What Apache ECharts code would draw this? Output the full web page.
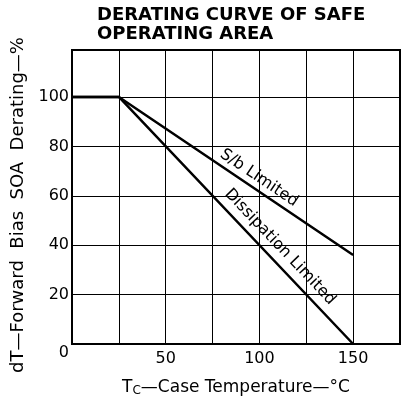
<!DOCTYPE html>
<html>
<head>
<meta charset="utf-8">
<script src="https://cdn.jsdelivr.net/npm/echarts@6/dist/echarts.min.js"></script>
<style>
  html, body { margin: 0; padding: 0; background: #fff; }
  #chart { width: 410px; height: 404px; }
</style>
</head>
<body>
<div id="chart"></div>
<script>
// case temperature (°C) and derating (%)
const caseTemp = [0, 25, 150]
const sbLimited = [100, 100, 36]
const dissipationLimited = [100, 100, 0]
const xTickLabels = [50, 100, 150]
const yTickLabels = [0, 20, 40, 60, 80, 100]

// curve labels, placed in data units next to each curve
const curveLabels = [
  { text: 'S/b Limited', at: [99.8, 67.2], angle: -34 },
  { text: 'Dissipation Limited', at: [111, 39.3], angle: -46.5 }
]

const font = 'DejaVu Sans'
const chart = echarts.init(document.getElementById('chart'))

const option = {
  animation: false,
  title: {
    text: 'DERATING CURVE OF SAFE\nOPERATING AREA',
    left: 97,
    top: 6,
    padding: 0,
    textStyle: {
      fontFamily: font,
      fontWeight: 'bold',
      fontSize: 18,
      lineHeight: 19,
      color: '#000'
    }
  },
  grid: {
    left: 72,
    right: 10,
    top: 50,
    bottom: 60,
    show: true,
    borderColor: '#000',
    borderWidth: 2,
    backgroundColor: 'transparent'
  },
  xAxis: {
    type: 'value',
    min: 0,
    max: 175,
    interval: 25,
    name: 'T{sub|C}—Case Temperature—°C',
    nameLocation: 'middle',
    nameGap: 34,
    nameTextStyle: {
      fontFamily: font,
      fontSize: 17,
      color: '#000',
      rich: {
        sub: { fontFamily: font, fontSize: 12, color: '#000', padding: [7, 0, 0, 0] }
      }
    },
    axisLine: { show: true, lineStyle: { color: '#000', width: 2 } },
    axisTick: { show: false },
    axisLabel: {
      margin: 7,
      fontFamily: font,
      fontSize: 16,
      color: '#000',
      formatter: v => (xTickLabels.includes(v) ? String(v) : '')
    },
    splitLine: { show: true, lineStyle: { color: '#000', width: 1 } }
  },
  yAxis: {
    type: 'value',
    min: 0,
    max: 119,
    interval: 20,
    name: 'dT—Forward  Bias  SOA  Derating—%',
    nameLocation: 'middle',
    nameGap: 38,
    nameTextStyle: {
      fontFamily: font,
      fontSize: 18,
      color: '#000',
      padding: [0, 16, 0, 0]
    },
    axisLine: { show: true, lineStyle: { color: '#000', width: 2 } },
    axisTick: { show: false },
    axisLabel: {
      margin: 3,
      fontFamily: font,
      fontSize: 16,
      color: '#000',
      formatter: v => (yTickLabels.includes(v) ? (v === 0 ? '{low|0}' : String(v)) : ''),
      rich: {
        low: { fontFamily: font, fontSize: 16, color: '#000', padding: [18, 0, 0, 0] }
      }
    },
    splitLine: { show: true, lineStyle: { color: '#000', width: 1 } }
  },
  series: [
    {
      name: 'S/b Limited',
      type: 'line',
      data: caseTemp.map((t, i) => [t, sbLimited[i]]),
      symbol: 'none',
      lineStyle: { color: '#000', width: 2.5 }
    },
    {
      name: 'Dissipation Limited',
      type: 'line',
      data: caseTemp.map((t, i) => [t, dissipationLimited[i]]),
      symbol: 'none',
      lineStyle: { color: '#000', width: 2.5 }
    },
    ...curveLabels.map(l => ({
      type: 'scatter',
      symbolSize: 0,
      silent: true,
      itemStyle: { opacity: 1 },
      data: [l.at],
      label: {
        show: true,
        position: 'inside',
        formatter: l.text,
        rotate: l.angle,
        fontFamily: font,
        fontSize: 16,
        color: '#000',
        opacity: 1,
        textBorderWidth: 0
      }
    }))
  ]
}

chart.setOption(option)
</script>
</body>
</html>
